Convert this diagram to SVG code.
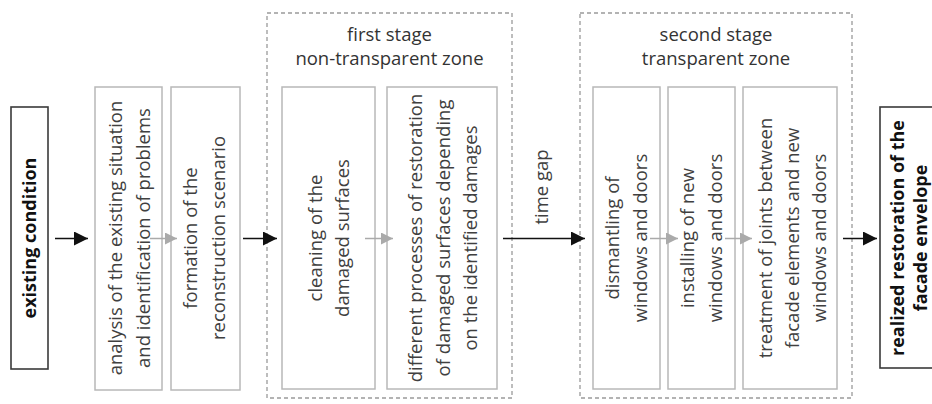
<svg xmlns="http://www.w3.org/2000/svg" width="932" height="404" viewBox="0 0 932 404">
<style>
.frame{fill:none;stroke:#9a9a9a;stroke-width:1.3;stroke-dasharray:4 3}
.box{fill:#fff;stroke:#b8b8b8;stroke-width:1.5}
.key{fill:#fff;stroke:#3a3a3a;stroke-width:1.6}
.t{font-family:"Open Sans","Liberation Sans",sans-serif;font-size:18.5px;fill:#404040;text-anchor:middle}
.b{font-family:"Open Sans","Liberation Sans",sans-serif;font-size:18px;font-weight:bold;fill:#111;text-anchor:middle}
.ttl{font-family:"Open Sans","Liberation Sans",sans-serif;font-size:18.5px;fill:#333;text-anchor:middle}
.ab{stroke:#111;stroke-width:1.5;fill:none}
.ag{stroke:#aaa;stroke-width:1.5;fill:none}
</style>
<defs>
<marker id="hb" markerUnits="userSpaceOnUse" markerWidth="14" markerHeight="14" refX="14" refY="7" orient="auto"><path d="M0,0 L14,7 L0,14 Z" fill="#111"/></marker>
<marker id="hg" markerUnits="userSpaceOnUse" markerWidth="12" markerHeight="12" refX="12" refY="6" orient="auto"><path d="M0,0 L12,6 L0,12 Z" fill="#aaa"/></marker>
</defs>
<g id="stage1">
<rect class="frame" x="267" y="13" width="245" height="385"/>
<text class="ttl" x="389.5" y="41">first stage</text>
<text class="ttl" x="389.5" y="65">non-transparent zone</text>
</g>
<g id="stage2">
<rect class="frame" x="580" y="13" width="272" height="385"/>
<text class="ttl" x="716" y="41">second stage</text>
<text class="ttl" x="716" y="65">transparent zone</text>
</g>
<g id="existing">
<rect class="key" x="11" y="107" width="37" height="262"/>
<text class="b" transform="translate(36,238) rotate(-90)">existing condition</text>
</g>
<g id="analysis">
<rect class="box" x="95" y="87" width="67" height="303"/>
<text class="t" transform="translate(128.5,238) rotate(-90)"><tspan x="0" y="-7">analysis of the existing situation</tspan><tspan x="0" y="21">and identification of problems</tspan></text>
</g>
<g id="formation">
<rect class="box" x="171" y="87" width="69" height="303"/>
<text class="t" transform="translate(205.5,238) rotate(-90)"><tspan x="0" y="-9">formation of the</tspan><tspan x="0" y="19">reconstruction scenario</tspan></text>
</g>
<g id="cleaning">
<rect class="box" x="282" y="87" width="93" height="302"/>
<text class="t" transform="translate(328.5,238) rotate(-90)"><tspan x="0" y="-7">cleaning of the</tspan><tspan x="0" y="20">damaged surfaces</tspan></text>
</g>
<g id="different">
<rect class="box" x="387" y="87" width="110" height="302"/>
<text class="t" transform="translate(442,238) rotate(-90)"><tspan x="0" y="-20">different processes of restoration</tspan><tspan x="0" y="7.5">of damaged surfaces depending</tspan><tspan x="0" y="35">on the identified damages</tspan></text>
</g>
<g id="dismantling">
<rect class="box" x="593" y="87" width="67" height="302"/>
<text class="t" transform="translate(626.5,238) rotate(-90)"><tspan x="0" y="-8">dismantling of</tspan><tspan x="0" y="20">windows and doors</tspan></text>
</g>
<g id="installing">
<rect class="box" x="668" y="87" width="67" height="302"/>
<text class="t" transform="translate(701.5,238) rotate(-90)"><tspan x="0" y="-8">installing of new</tspan><tspan x="0" y="20">windows and doors</tspan></text>
</g>
<g id="treatment">
<rect class="box" x="743" y="87" width="94" height="302"/>
<text class="t" transform="translate(790,238) rotate(-90)"><tspan x="0" y="-18">treatment of joints between</tspan><tspan x="0" y="8.5">facade elements and new</tspan><tspan x="0" y="36">windows and doors</tspan></text>
</g>
<g id="realized">
<rect class="key" x="880" y="107" width="64" height="261"/>
<text class="b" transform="translate(912,238) rotate(-90)"><tspan x="0" y="-8.5">realized restoration of the</tspan><tspan x="0" y="15">facade envelope</tspan></text>
</g>
<g id="connectors">
<line class="ab" x1="55" y1="238.5" x2="88" y2="238.5" marker-end="url(#hb)"/>
<line class="ag" x1="150" y1="238.5" x2="177" y2="238.5" marker-end="url(#hg)"/>
<line class="ab" x1="243" y1="238.5" x2="277" y2="238.5" marker-end="url(#hb)"/>
<line class="ag" x1="365" y1="238.5" x2="393" y2="238.5" marker-end="url(#hg)"/>
<line class="ab" x1="503" y1="238.5" x2="585" y2="238.5" marker-end="url(#hb)"/>
<text class="t" transform="translate(548,187) rotate(-90)">time gap</text>
<line class="ag" x1="650" y1="238.5" x2="678" y2="238.5" marker-end="url(#hg)"/>
<line class="ag" x1="725" y1="238.5" x2="752" y2="238.5" marker-end="url(#hg)"/>
<line class="ab" x1="843" y1="238.5" x2="877" y2="238.5" marker-end="url(#hb)"/>
</g>
</svg>
